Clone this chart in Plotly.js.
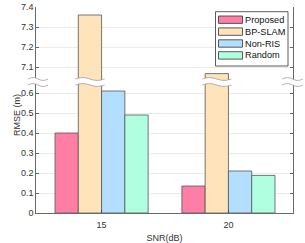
<!DOCTYPE html>
<html>
<head>
<meta charset="utf-8">
<script src="https://cdn.plot.ly/plotly-3.0.1.min.js"></script>
<style>html,body{margin:0;padding:0;background:#fff}#chart{width:305px;height:243px}</style>
</head>
<body>
<div id="chart"></div>
<script>
// ---- data ----
var snrValues = [0, 1];
var snrLabels = ['15', '20'];
var seriesNames = ['Proposed', 'BP-SLAM', 'Non-RIS', 'Random'];
var proposed = [0.40, 0.135];
var bpSlam = [7.36, 7.067];
var nonRis = [0.61, 0.21];
var randomSel = [0.49, 0.188];
var lowerTicks = [0, 0.1, 0.2, 0.3, 0.4, 0.5, 0.6];
var upperTicks = [7.1, 7.2, 7.3, 7.4];

// ---- styling ----
var colors = ['#FF7EA6', '#FFE4BB', '#B3DEFF', '#B1FFE1'];
var allSeries = [proposed, bpSlam, nonRis, randomSel];
var xmin = -0.517, xmax = 1.509;
var bargap = 0.266;
var split = 0.636;
var axisColor = '#444';
var gridColor = '#e6e6e6';
var fam = 'Liberation Sans, Arial, sans-serif';
var tickFont = {family: fam, size: 9, color: '#333'};
var plotH = 206, plotW = 257, padL = 36, padT = 7;
function px2x(px) { return (px - padL) / plotW; }
function py2y(py) { return (padT + plotH - py) / plotH; }

var traces = [];
allSeries.forEach(function (vals, i) {
  ['y', 'y2'].forEach(function (ya, k) {
    traces.push({
      type: 'bar', x: snrValues, y: vals, name: seriesNames[i],
      xaxis: k === 0 ? 'x' : 'x2', yaxis: ya,
      marker: {color: colors[i], line: {color: '#555', width: 0.8}},
      showlegend: false, hoverinfo: 'skip'
    });
  });
});

// break marks
function xp(xd) { return (xd - xmin) / (xmax - xmin); }
function wavePts(x0, x1, yc, amp, n) {
  var pts = [];
  for (var j = 0; j <= n; j++) {
    var t = j / n;
    pts.push([x0 + (x1 - x0) * t, yc + amp * Math.sin(2 * Math.PI * t)]);
  }
  return pts;
}
var yTop = py2y(79), yBot = py2y(85);
var amp = 1.4 / plotH;
function breakShapes(x0, x1) {
  var a = wavePts(x0, x1, yTop, amp, 24), b = wavePts(x0, x1, yBot, amp, 24);
  var fill = 'M' + a.map(function (p) { return p[0] + ',' + p[1]; }).join('L') +
    'L' + b.slice().reverse().map(function (p) { return p[0] + ',' + p[1]; }).join('L') + 'Z';
  var line = function (pts) { return 'M' + pts.map(function (p) { return p[0] + ',' + p[1]; }).join('L'); };
  return [
    {type: 'path', xref: 'paper', yref: 'paper', path: fill, fillcolor: '#ffffff', line: {width: 0}},
    {type: 'path', xref: 'paper', yref: 'paper', path: line(a), line: {color: '#999', width: 0.8}},
    {type: 'path', xref: 'paper', yref: 'paper', path: line(b), line: {color: '#999', width: 0.8}}
  ];
}
var barW = (1 - bargap) / 4;
var ext = 3 / plotW;
var shapes = [];
shapes = shapes.concat(breakShapes(px2x(28), px2x(48)));
shapes = shapes.concat(breakShapes(px2x(282), px2x(303)));
snrValues.forEach(function (c) {
  var l = c - (1 - bargap) / 2 + barW, r = l + barW;
  shapes = shapes.concat(breakShapes(xp(l) - ext, xp(r) + ext));
});

// legend (drawn manually to match compact layout)
var annotations = [];
shapes.push({type: 'rect', xref: 'paper', yref: 'paper',
  x0: px2x(215.5), x1: px2x(288), y0: py2y(66), y1: py2y(11.7),
  fillcolor: '#fff', line: {color: '#333', width: 0.8}});
seriesNames.forEach(function (nm, i) {
  var cy = 19.7 + i * 11.9;
  shapes.push({type: 'rect', xref: 'paper', yref: 'paper',
    x0: px2x(218.5), x1: px2x(242.5), y0: py2y(cy + 3.7), y1: py2y(cy - 3.7),
    fillcolor: colors[i], line: {color: '#333', width: 0.8}});
  annotations.push({text: nm, xref: 'paper', yref: 'paper', x: px2x(243.2), y: py2y(cy),
    xanchor: 'left', yanchor: 'middle', showarrow: false,
    font: {family: fam, size: 9.2, color: '#111'}});
});
annotations.push({
  text: 'RMSE (m)', textangle: -90, xref: 'paper', yref: 'paper',
  x: px2x(10), y: py2y(115), showarrow: false,
  font: {family: fam, size: 9, color: '#333'}
});

var baseY = {
  showgrid: true, gridcolor: gridColor, gridwidth: 0.8,
  showline: true, linecolor: axisColor, linewidth: 0.8, mirror: 'ticks',
  ticks: 'inside', ticklen: 3, tickcolor: axisColor, tickwidth: 0.8,
  tickfont: tickFont, zeroline: false, fixedrange: true
};
var layout = {
  width: 305, height: 243,
  margin: {l: padL, r: 12, t: padT, b: 30},
  paper_bgcolor: '#fff', plot_bgcolor: '#fff',
  barmode: 'group', bargap: bargap, bargroupgap: 0,
  font: tickFont, showlegend: false,
  xaxis: {
    anchor: 'y', range: [xmin, xmax], tickvals: snrValues, ticktext: snrLabels,
    showline: true, linecolor: axisColor, linewidth: 0.8, ticks: 'inside', ticklen: 3,
    tickcolor: axisColor, tickwidth: 0.8, showgrid: false, zeroline: false, tickfont: tickFont,
    ticklabelstandoff: 3,
    title: {text: 'SNR(dB)', font: {family: fam, size: 9, color: '#333'}, standoff: 7}
  },
  xaxis2: {anchor: 'y2', matches: 'x', range: [xmin, xmax], visible: false},
  yaxis: Object.assign({}, baseY, {
    anchor: 'x', domain: [0, split], range: [0, split * plotH / 200],
    tickvals: lowerTicks, ticktext: lowerTicks.map(function (v) { return v === 0 ? '0' : v.toFixed(1); })
  }),
  yaxis2: Object.assign({}, baseY, {
    anchor: 'x2', domain: [split, 1], range: [7.4 - (1 - split) * plotH / 200, 7.4],
    tickvals: upperTicks, ticktext: upperTicks.map(function (v) { return v.toFixed(1); })
  }),
  annotations: annotations,
  shapes: shapes
};
Plotly.newPlot('chart', traces, layout, {displayModeBar: false, staticPlot: true});
</script>
</body>
</html>
